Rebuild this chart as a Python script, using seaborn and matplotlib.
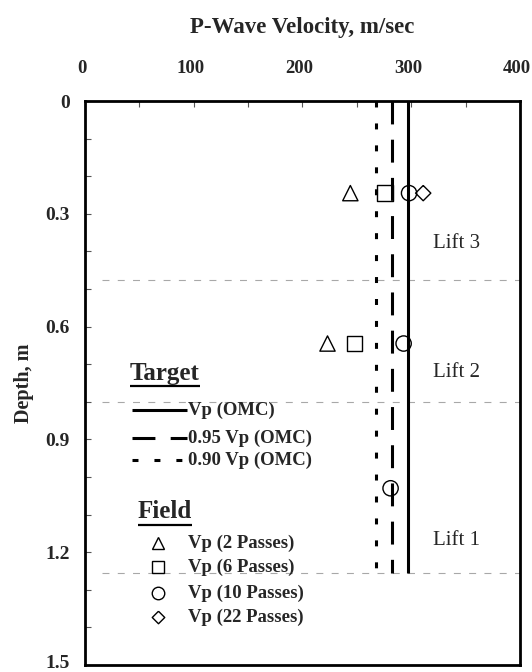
import numpy as np
import pandas as pd
import matplotlib
matplotlib.use("Agg")
import matplotlib.pyplot as plt
from matplotlib.ticker import MultipleLocator
from matplotlib.transforms import ScaledTranslation
import seaborn as sns

# ---- data -------------------------------------------------------------
vp_omc = 297.0                      # target P-wave velocity at OMC, m/sec
target_factors = [1.00, 0.95, 0.90]
target_labels = ["Vp (OMC)", "0.95 Vp (OMC)", "0.90 Vp (OMC)"]
target_bottom = 1.254               # depth where the target lines stop, m

lift_bounds = [0.476, 0.80, 1.254]  # lift boundaries, m
lift_names = ["Lift 3", "Lift 2", "Lift 1"]
lift_label_depth = [0.378, 0.721, 1.168]
lift_label_vp = 320

field_passes = ["Vp (2 Passes)", "Vp (2 Passes)",
                "Vp (6 Passes)", "Vp (6 Passes)",
                "Vp (10 Passes)", "Vp (10 Passes)", "Vp (10 Passes)",
                "Vp (22 Passes)"]
field_vp = [244, 223, 276, 248, 298, 293, 281, 311]
field_depth = [0.245, 0.645, 0.245, 0.645, 0.245, 0.645, 1.03, 0.245]

pass_levels = ["Vp (2 Passes)", "Vp (6 Passes)", "Vp (10 Passes)", "Vp (22 Passes)"]
diamond = [(0, 1), (1, 0), (0, -1), (-1, 0), (0, 1)]
pass_markers = {"Vp (2 Passes)": "^", "Vp (6 Passes)": "s",
                "Vp (10 Passes)": "o", "Vp (22 Passes)": diamond}

x_ticks = [0, 100, 200, 300, 400]
y_ticks = [0, 0.3, 0.6, 0.9, 1.2, 1.5]
y_tick_labels = ["0", "0.3", "0.6", "0.9", "1.2", "1.5"]

# ---- style ------------------------------------------------------------
sns.set_theme(style="ticks")
plt.rcParams["font.family"] = ["Liberation Serif", "DejaVu Serif"]
plt.rcParams["lines.scale_dashes"] = False

fig = plt.figure(figsize=(5.32, 6.72), dpi=100)
ax = fig.add_axes([0.1598, 0.0104, 0.9774 - 0.1598, 0.8497 - 0.0104])

line_styles = ["-", (0, (16.5, 11)), (0, (4.3, 11.5))]

# target velocity lines
for f, ls in zip(target_factors, line_styles):
    v = vp_omc * f
    ax.plot([v, v], [0, target_bottom], color="black", lw=2.2,
            linestyle=ls, solid_capstyle="butt", dash_capstyle="butt")

# lift boundaries
for b in lift_bounds:
    ax.axhline(b, xmin=0.04, xmax=1.0, color="#a8a8a8", lw=0.8,
               linestyle=(0, (5, 6)), zorder=0.5)

for name, d in zip(lift_names, lift_label_depth):
    ax.text(lift_label_vp, d, name, fontsize=15, ha="left", va="center")

# field measurements
df = pd.DataFrame({"vp": field_vp, "depth": field_depth, "passes": field_passes})
sns.scatterplot(data=df, x="vp", y="depth", style="passes",
                style_order=pass_levels, markers=pass_markers,
                s=121, color="black", facecolor="none", edgecolor="black",
                linewidth=1.0, legend=False, ax=ax, zorder=3)

# ---- axes -------------------------------------------------------------
ax.set_xlim(0, 400)
ax.set_ylim(1.5, 0)
ax.xaxis.tick_top()
ax.xaxis.set_label_position("top")
ax.set_xticks(x_ticks)
ax.set_xticklabels([str(t) for t in x_ticks])
ax.xaxis.set_minor_locator(MultipleLocator(50))
ax.set_yticks(y_ticks)
ax.set_yticklabels(y_tick_labels)
ax.yaxis.set_minor_locator(MultipleLocator(0.1))
ax.tick_params(axis="both", which="both", direction="in", length=4,
               width=0.8, color="#555555")
ax.tick_params(axis="x", which="major", pad=17, labelsize=13.5)
ax.tick_params(axis="y", which="major", pad=11, labelsize=14)
ax.tick_params(right=False, bottom=False, which="both")
shift = ScaledTranslation(-3.3 / 100, 0, fig.dpi_scale_trans)
for lab in ax.get_xticklabels():
    lab.set_fontweight("bold")
    lab.set_transform(lab.get_transform() + shift)
ylabs = ax.get_yticklabels()
for lab in ylabs:
    lab.set_fontweight("bold")
# keep the bottom depth label inside the figure edge
ylabs[-1].set_transform(ylabs[-1].get_transform()
                        + ScaledTranslation(0, 4 / 100, fig.dpi_scale_trans))
for sp in ax.spines.values():
    sp.set_visible(True)
    sp.set_linewidth(2.0)
    sp.set_color("black")

ax.set_xlabel("P-Wave Velocity, m/sec", fontsize=16.5, fontweight="bold",
              labelpad=20)
ax.set_ylabel("Depth, m", fontsize=14.5, fontweight="bold", labelpad=8)

# ---- key --------------------------------------------------------------
T = ax.transAxes
heads = []
heads.append(ax.text(0.1034, 0.5177, "Target", transform=T, fontsize=18,
                     fontweight="bold", ha="left", va="center"))
row_y = [0.452, 0.4025, 0.3635]
for lab, ls, yy in zip(target_labels, line_styles, row_y):
    ax.plot([0.108, 0.2345], [yy, yy], transform=T, color="black", lw=2.2,
            linestyle=ls, solid_capstyle="butt", dash_capstyle="butt")
    ax.text(0.2368, yy, lab, transform=T, fontsize=13.5, fontweight="bold",
            ha="left", va="center")

heads.append(ax.text(0.1218, 0.2713, "Field", transform=T, fontsize=18,
                     fontweight="bold", ha="left", va="center"))
mark_y = [0.2163, 0.1738, 0.1277, 0.0851]
for lab, yy in zip(pass_levels, mark_y):
    ax.plot([0.168], [yy], transform=T, marker=pass_markers[lab],
            markersize=9, markerfacecolor="none", markeredgecolor="black",
            markeredgewidth=1.0, linestyle="none")
    ax.text(0.2368, yy, lab, transform=T, fontsize=13.5, fontweight="bold",
            ha="left", va="center")

# underline the key headings
fig.canvas.draw()
inv = T.inverted()
for h in heads:
    bb = h.get_window_extent()
    (x0, y0), (x1, _) = inv.transform([[bb.x0, bb.y0], [bb.x1, bb.y1]])
    ax.plot([x0, x1], [y0 - 0.002, y0 - 0.002], transform=T, color="black",
            lw=1.6, solid_capstyle="butt")

fig.savefig("out.png", dpi=100, facecolor="white")
